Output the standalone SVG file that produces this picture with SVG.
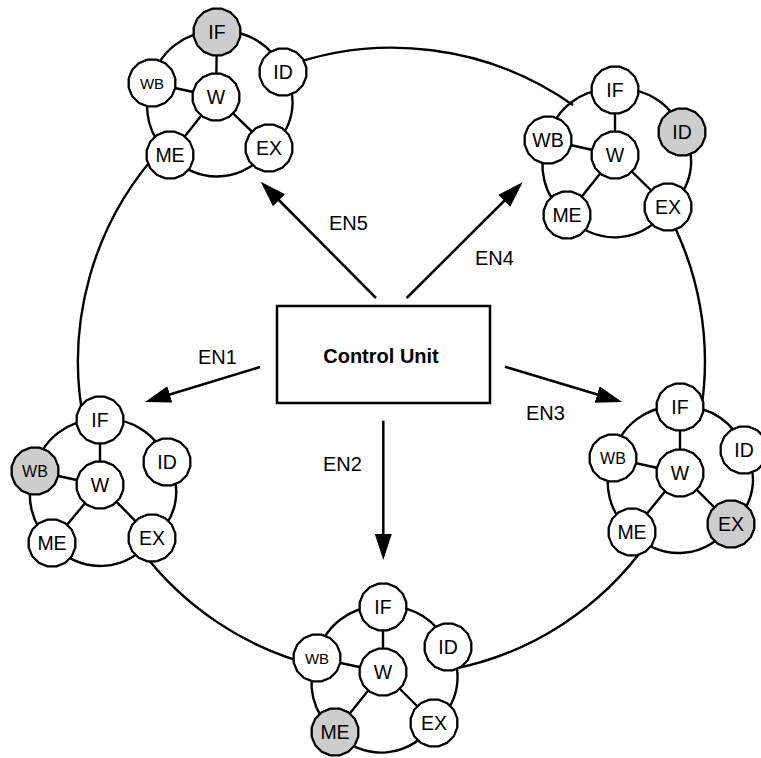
<svg xmlns="http://www.w3.org/2000/svg" xmlns:xlink="http://www.w3.org/1999/xlink" width="761" height="758" viewBox="0 0 761 758">
<style>
  .bg{fill:#fff}
  .ln{fill:none;stroke:#000;stroke-width:2.4}
  .arr{fill:none;stroke:#000;stroke-width:2.5;marker-end:url(#ah)}
  .nd{fill:#fff;stroke:#000;stroke-width:2.3}
  .hot{fill:#cdcdcd}
  .box{fill:#fff;stroke:#000;stroke-width:2.5}
  text{font-family:"Liberation Sans",Arial,sans-serif;fill:#000;text-anchor:middle}
  .lb{font-size:19.5px}
  .wb{font-size:15px}
  .en{font-size:20px;text-anchor:start}
  .cu{font-size:20px;font-weight:bold}
</style>
<defs>
  <polygon id="oct" points="23.3,4.6 19.8,13.2 13.2,19.8 4.6,23.3 -4.6,23.3 -13.2,19.8 -19.8,13.2 -23.3,4.6 -23.3,-4.6 -19.8,-13.2 -13.2,-19.8 -4.6,-23.3 4.6,-23.3 13.2,-19.8 19.8,-13.2 23.3,-4.6"/>
  <marker id="ah" markerUnits="userSpaceOnUse" markerWidth="26" markerHeight="18" viewBox="0 0 26 18" refX="1" refY="9" orient="auto">
    <path d="M0,0.5 L26,9 L0,17.5 Z" fill="#000"/>
  </marker>
</defs>
<rect class="bg" x="0" y="0" width="761" height="758"/>

<g id="connectors">
  <path class="ln" d="M162.2,147.7 A313.5,313.5 0 0 0 84.1,423.2"/>
  <path class="ln" d="M281.5,68 A313.5,313.5 0 0 1 573,105"/>
  <path class="ln" d="M665.2,208.6 A313.5,313.5 0 0 1 701.1,410.3"/>
  <path class="ln" d="M647.3,542.8 A313.5,313.5 0 0 1 452.4,669.1"/>
  <path class="ln" d="M139.1,547.5 A313.5,313.5 0 0 0 315.1,665.6"/>
  <line class="arr" x1="376" y1="298" x2="278.3" y2="199.5"/>
  <line class="arr" x1="406.7" y1="298" x2="505" y2="200"/>
  <line class="arr" x1="260" y1="367" x2="168.9" y2="394.7"/>
  <line class="arr" x1="505" y1="366.7" x2="598.1" y2="394.8"/>
  <line class="arr" x1="383.3" y1="420.7" x2="383.3" y2="535"/>
  <path class="ln" d="M217,32 A62,62 0 0 1 283,72 A55,55 0 0 1 269,148 A62,62 0 0 1 170,155 A62,62 0 0 1 152,83 A62,62 0 0 1 217,32 Z M216,97 L217,32 M216,97 L152,83 M216,97 L170,155 M216,97 L269,148"/>
  <path class="ln" d="M615,90 A62,62 0 0 1 682,132 A55,55 0 0 1 668,207 A62,62 0 0 1 567,215 A62,62 0 0 1 548,140 A62,62 0 0 1 615,90 Z M615,155 L615,90 M615,155 L548,140 M615,155 L567,215 M615,155 L668,207"/>
  <path class="ln" d="M100,420 A62,62 0 0 1 167,462 A55,55 0 0 1 152,538 A62,62 0 0 1 52,543 A62,62 0 0 1 35,471 A62,62 0 0 1 100,420 Z M100,485 L100,420 M100,485 L35,471 M100,485 L52,543 M100,485 L152,538"/>
  <path class="ln" d="M680,407 A62,62 0 0 1 744,450 A55,55 0 0 1 731,524 A62,62 0 0 1 632,532 A62,62 0 0 1 613,458 A62,62 0 0 1 680,407 Z M680,473 L680,407 M680,473 L613,458 M680,473 L632,532 M680,473 L731,524"/>
  <path class="ln" d="M383,607 A62,62 0 0 1 448,647 A55,55 0 0 1 434,723 A62,62 0 0 1 335,732 A62,62 0 0 1 317,658 A62,62 0 0 1 383,607 Z M383,672 L383,607 M383,672 L317,658 M383,672 L335,732 M383,672 L434,723"/>
</g>

<g id="labels">
  <text class="en" x="329" y="230">EN5</text>
  <text class="en" x="475" y="265">EN4</text>
  <text class="en" x="198" y="364">EN1</text>
  <text class="en" x="526" y="420">EN3</text>
  <text class="en" x="323" y="471">EN2</text>
</g>

<g id="control-unit">
  <rect class="box" x="277" y="306" width="213" height="97"/>
  <text class="cu" x="381" y="363">Control Unit</text>
</g>

<g id="cluster5">
  <g id="c5-IF"><use href="#oct" class="nd hot" x="217" y="32"/><text class="lb" x="217" y="39">IF</text></g>
  <g id="c5-ID"><use href="#oct" class="nd" x="283" y="72"/><text class="lb" x="283" y="79">ID</text></g>
  <g id="c5-WB"><use href="#oct" class="nd" x="152" y="83"/><text class="wb" x="152" y="88.5">WB</text></g>
  <g id="c5-W"><use href="#oct" class="nd" x="216" y="97"/><text class="lb" x="216" y="104">W</text></g>
  <g id="c5-ME"><use href="#oct" class="nd" x="170" y="155"/><text class="lb" x="170" y="162">ME</text></g>
  <g id="c5-EX"><use href="#oct" class="nd" x="269" y="148"/><text class="lb" x="269" y="155">EX</text></g>
</g>
<g id="cluster4">
  <g id="c4-IF"><use href="#oct" class="nd" x="615" y="90"/><text class="lb" x="615" y="97">IF</text></g>
  <g id="c4-ID"><use href="#oct" class="nd hot" x="682" y="132"/><text class="lb" x="682" y="139">ID</text></g>
  <g id="c4-WB"><use href="#oct" class="nd" x="548" y="140"/><text class="lb" x="548" y="147">WB</text></g>
  <g id="c4-W"><use href="#oct" class="nd" x="615" y="155"/><text class="lb" x="615" y="162">W</text></g>
  <g id="c4-ME"><use href="#oct" class="nd" x="567" y="215"/><text class="lb" x="567" y="222">ME</text></g>
  <g id="c4-EX"><use href="#oct" class="nd" x="668" y="207"/><text class="lb" x="668" y="214">EX</text></g>
</g>
<g id="cluster1">
  <g id="c1-IF"><use href="#oct" class="nd" x="100" y="420"/><text class="lb" x="100" y="427">IF</text></g>
  <g id="c1-ID"><use href="#oct" class="nd" x="167" y="462"/><text class="lb" x="167" y="469">ID</text></g>
  <g id="c1-WB"><use href="#oct" class="nd hot" x="35" y="471"/><text class="wb" x="35" y="477" style="font-size:16px">WB</text></g>
  <g id="c1-W"><use href="#oct" class="nd" x="100" y="485"/><text class="lb" x="100" y="492">W</text></g>
  <g id="c1-ME"><use href="#oct" class="nd" x="52" y="543"/><text class="lb" x="52" y="550">ME</text></g>
  <g id="c1-EX"><use href="#oct" class="nd" x="152" y="538"/><text class="lb" x="152" y="545">EX</text></g>
</g>
<g id="cluster3">
  <g id="c3-IF"><use href="#oct" class="nd" x="680" y="407"/><text class="lb" x="680" y="414">IF</text></g>
  <g id="c3-ID"><use href="#oct" class="nd" x="744" y="450"/><text class="lb" x="744" y="457">ID</text></g>
  <g id="c3-WB"><use href="#oct" class="nd" x="613" y="458"/><text class="wb" x="613" y="464" style="font-size:16px">WB</text></g>
  <g id="c3-W"><use href="#oct" class="nd" x="680" y="473"/><text class="lb" x="680" y="480">W</text></g>
  <g id="c3-ME"><use href="#oct" class="nd" x="632" y="532"/><text class="lb" x="632" y="539">ME</text></g>
  <g id="c3-EX"><use href="#oct" class="nd hot" x="731" y="524"/><text class="lb" x="731" y="531">EX</text></g>
</g>
<g id="cluster2">
  <g id="c2-IF"><use href="#oct" class="nd" x="383" y="607"/><text class="lb" x="383" y="614">IF</text></g>
  <g id="c2-ID"><use href="#oct" class="nd" x="448" y="647"/><text class="lb" x="448" y="654">ID</text></g>
  <g id="c2-WB"><use href="#oct" class="nd" x="317" y="658"/><text class="wb" x="317" y="663.5">WB</text></g>
  <g id="c2-W"><use href="#oct" class="nd" x="383" y="672"/><text class="lb" x="383" y="679">W</text></g>
  <g id="c2-ME"><use href="#oct" class="nd hot" x="335" y="732"/><text class="lb" x="335" y="739">ME</text></g>
  <g id="c2-EX"><use href="#oct" class="nd" x="434" y="723"/><text class="lb" x="434" y="730">EX</text></g>
</g>
</svg>
